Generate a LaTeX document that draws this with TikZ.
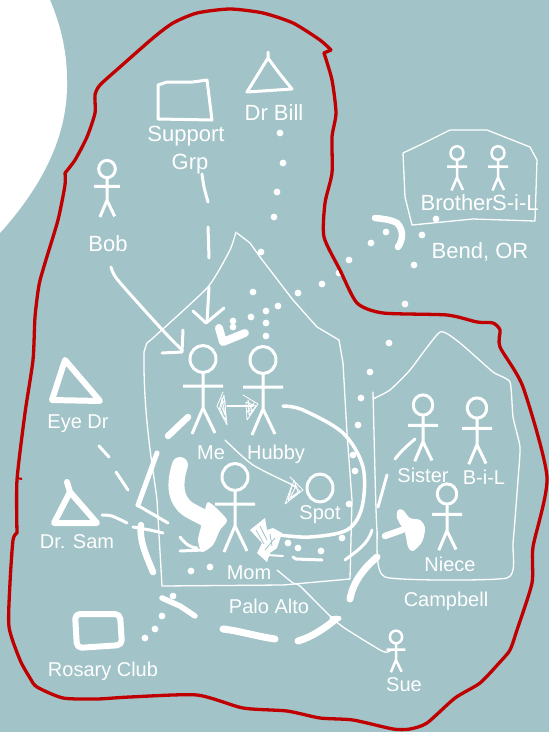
\documentclass[tikz,border=0pt]{standalone}
\usepackage{fontspec}
\setmainfont{Liberation Sans}
\definecolor{bgc}{HTML}{A2C3C8}
\definecolor{redc}{HTML}{C00000}
\tikzset{
  lab/.style={text=white,inner sep=0pt,font=\fontsize{20}{24}\selectfont},
  labb/.style={text=white,inner sep=0pt,font=\fontsize{22}{26}\selectfont},
  ink/.style={draw=white,line cap=round,line join=round},
  thinl/.style={ink,line width=1.3pt},
  medl/.style={ink,line width=3pt},
  heavy/.style={ink,line width=6.5pt},
  scrib/.style={ink,line width=.8pt},
  redl/.style={draw=redc,line width=3.3pt,line join=round,line cap=round},
}
\newcommand{\stickman}[5]{%
  \begin{scope}[shift={(#1,#2)},scale=#3]
    \draw[ink,line width=#4pt] (0,0) ellipse (13 and 13.5);
    \draw[ink,line cap=butt,line width=#4pt] (0,13.5) -- (0,49) (-20,27) -- (20,27) (-11,75) -- (0,49) -- (12,74);
  \end{scope}
  \node[coordinate] (#5) at (#1,#2) {};
}
\begin{document}
\begin{tikzpicture}[x=1pt,y=-1pt]
\useasboundingbox (0,0) rectangle (549,732);
\fill[bgc] (0,0) rectangle (549,732);
\begin{scope}
\clip (0,0) rectangle (549,732);
% white corner
\fill[white] (50,0) .. controls (62,28) and (67,55) .. (67,80) .. controls (68,125) and (52,175) .. (0,233) -- (-5,240) -- (-5,0) -- cycle;
% dot beneath the boundary
\fill[white] (339,273) circle (3.4pt);
% red boundary
\draw[redl] plot[smooth,tension=.4] coordinates {
 (324,53) (332,80) (336,113) (332,137) (332,173) (325,203) (324,237) (340,270) (357,303) (383,313) (447,315) (477,322) (493,323) (500,330)
 (500,347) (523,387) (547,477) (533,547) (532,583) (517,630) (510,650) (500,662) (480,683) (455,698) (427,723) (410,729) (393,729) (353,720) (320,718) (287,711) (243,708) (197,695) (130,697) (97,699) (63,698) (37,687) (30,678) (20,660) (9,627) (10,583) (13,540) (17,533)};
\draw[redl] plot[smooth,tension=.4] coordinates {(17,533) (17,480) (25,413) (33,360) (35,317) (39,285) (45,263) (58,220) (65,185) (65,173)};
\draw[redl] plot[smooth,tension=.4] coordinates {(65,173) (75,160) (87,137) (95,113) (95,95) (100,85) (120,67) (153,38) (173,23) (197,13) (230,9) (263,13) (293,23) (320,40) (331,50)};
\draw[redl] (331,50) -- (324,53);
\draw[redc,line width=2pt] (17,478) -- (22,479);
\end{scope}
% region outlines
\draw[thinl] plot[smooth,tension=.3] coordinates {(236,232) (230,250) (208,287) (153,338) (147,343) (144,352)};
\draw[thinl,line join=round] (144,352) .. controls (143,420) and (155,480) .. (157,500) -- (162,586) -- (283,585) -- (350,579) -- (352,500) -- (347,433) -- (343,363) -- (339,340) -- (317,327) -- (293,300) -- (270,270) -- (260,257) -- (250,243) -- (237,233);
\draw[thinl] plot[smooth,tension=.3] coordinates {(373,392) (375,473) (377,530) (385,577) (507,578) (513,543) (518,480) (520,447) (513,417) (510,382) (493,372) (460,343) (440,332) (410,370) (390,390) (373,399)};
\draw[thinl,line join=round] (403,153) -- (405,197) -- (412,225) -- (473,219) -- (535,221) -- (537,160) -- (530,147) -- (487,130) -- (450,130) -- (420,145) -- cycle;
\draw[thinl] plot[smooth,tension=.4] coordinates {(277,570) (293,583) (300,586) (327,613) (343,627) (382,651) (390,651)};
% people
\stickman{203}{359}{1}{3}{me}
\stickman{263}{360}{1}{3}{hubby}
\stickman{235}{477}{1}{3}{mom}
\stickman{423}{405}{.75}{3}{sister}
\stickman{477}{408}{.75}{3}{bil}
\stickman{447}{494}{.75}{3}{niece}
\stickman{457}{153}{.5}{2.5}{brother}
\stickman{498}{153}{.5}{2.5}{sil}
\stickman{107}{169}{.64}{3}{bob}
\stickman{396}{637}{.47}{2.5}{sue}
\draw[ink,line width=3pt] (320,488) ellipse (13 and 14);
% professionals and groups
\draw[ink,line width=3pt] (268,52) -- (268,58) -- (279,73) -- (292,89) -- (247,92) -- (268,58);
\draw[ink,line width=6pt] (65,360) -- (100,401) -- (52,400) -- cycle;
\draw[ink,line width=6pt] (67,482) -- (70,492) -- (97,523) -- (54,523) -- (70,492);
\draw[ink,line width=3pt] (158,85) -- (167,82) -- (193,82) -- (207,80) -- (212,120) -- (158,119) -- cycle;
\draw[ink,line width=6pt,rounded corners=5pt] (75,614) -- (120,614) -- (122,645) -- (77,648) -- cycle;
% dots
\foreach \p in {(280,133),(283,163),(277,192),(274,217),(261,252),(253,292),(298,293),(278,306),(266,311),(251,317),(233,321),(233,327),(266,323),(266,336),(322,284),
 (436,219),(422,235),(386,232),(371,243),(349,260),(414,265),(405,304),
 (389,343),(370,372),(361,398),(358,425),(353,455),(355,471),(349,504),(342,538),(321,551),(298,548),(288,543),(210,567),(191,571),
 (162,616),(155,629),(145,638),(173,596)}
  \fill[white] \p circle (3.4pt);
% Bob arrow
\draw[medl] plot[smooth,tension=.5] coordinates {(111,267) (117,279) (147,313) (170,338) (182,350)};
\draw[medl] (183,330) -- (182,352) -- (162,353);
% Support arrow
\draw[medl] plot[smooth] coordinates {(202,174) (204,187) (208,202)};
\draw[medl] (208,227) -- (209,258);
\draw[medl] (209,287) -- (207,322);
\draw[medl] (193,311) -- (206,323) -- (224,308);
% chevron
\draw[ink,line width=8pt] (219,328) -- (223,342) -- (245,333);
% short dashes
\draw[heavy] (168,436) -- (188,417);
\draw[medl] (99,446) -- (109,457);
\draw[medl] (116,472) -- (128,490);
\draw[medl] plot[smooth] coordinates {(102,515) (112,516) (127,523)};
\draw[medl] (395,459) .. controls (402,450) and (408,445) .. (415,439);
\draw[medl] (387,475) -- (378,507);
% Me to Mom thick arrow
\draw[ink,line width=16pt] (180,465) .. controls (172,490) and (178,505) .. (193,512) -- (212,522);
\fill[white] plot[smooth cycle,tension=.4] coordinates {(207,503) (213,505) (227,520) (220,530) (213,545) (202,552) (198,540) (202,523)};
\draw[medl] (180,537) .. controls (186,545) and (192,548) .. (197,548);
\draw[medl] (180,551) -- (203,550);
% Me--Hubby double arrow
\draw[ink,line width=1.5pt] (227,406) -- (253,406);
\draw[scrib] (223,392) -- (217,406) -- (227,425) -- (224,395) -- (219,410) -- (226,420) -- (225,400) -- (221,405) -- (225,415) -- (222,398) -- (220,408) -- (224,418);
\draw[scrib] (243,395) -- (258,404) -- (247,420) -- (246,402) -- (256,406) -- (249,415) -- (248,400) -- (252,410) -- (247,412) -- (254,403);
% Me to Spot
\draw[thinl] plot[smooth,tension=.4] coordinates {(225,440) (253,465) (297,487)};
\draw[scrib] (290,477) -- (303,490) -- (285,504) -- (292,485) -- (300,491) -- (288,500) -- (294,480) -- (298,492) -- (290,498) -- (295,488) -- (291,495);
% Hubby to Mom
\draw[ink,line width=3.5pt] plot[smooth,tension=.55] coordinates {(283,406) (303,410) (343,433) (363,467) (362,507) (347,530) (310,537) (280,535)};
\fill[white] (250,530) -- (265,518) -- (267,530) -- (273,528) -- (282,533) -- (277,548) -- (270,553) -- (267,562) -- (257,553) -- (262,543) -- cycle;
\draw[bgc,line width=.8pt] (256,530) -- (264,544) (260,526) -- (267,540) (270,534) -- (272,546) (265,550) -- (275,538);
\draw[medl,line width=2pt] (267,555) -- (283,556);
% lower right strokes
\draw[medl] (293,557) -- (296,559) -- (322,560);
\draw[medl] (345,560) .. controls (355,552) and (368,545) .. (372,530);
\draw[ink,line width=7pt] (350,599) .. controls (353,583) and (362,570) .. (377,557);
% left strokes
\draw[ink,line width=5pt] (157,453) -- (138,505);
\draw[medl] (137,505) -- (168,523);
\draw[medl] (133,527) -- (150,530) -- (163,533);
\draw[heavy] (141,525) .. controls (139,540) and (146,555) .. (153,572);
% bottom
\draw[ink,line width=5.5pt] (162,598) -- (180,606) -- (195,616);
\draw[ink,line width=7pt] (223,629) .. controls (240,631) and (255,636) .. (275,639);
\draw[ink,line width=7pt] (298,641) .. controls (312,637) and (325,628) .. (336,619);
\draw[ink,line width=5pt] (332,618) -- (339,618);
% Niece blob
\draw[heavy] (385,536) -- (402,530);
\fill[white] plot[smooth cycle,tension=.5] coordinates {(398,510) (403,510) (410,518) (420,520) (425,528) (422,542) (413,551) (408,547) (405,533) (397,518)};
% Bend arrow
\draw[heavy] (375,218) .. controls (385,219) and (392,220) .. (397,223) .. controls (404,230) and (403,240) .. (398,247);
% labels
\node[labb] (ldrbill) at (274,113) {Dr Bill};
\node[labb] (lsupport) at (186,136) {Support};
\node[labb] (lgrp) at (190,164) {Grp};
\node[labb] (lbob) at (108,244) {Bob};
\node[lab] (lme) at (211,453) {Me};
\node[lab] (lhubby) at (276,454) {Hubby};
\node[lab] (lmom) at (249,573) {Mom};
\node[lab] (lspot) at (320,515) {Spot};
\node[lab] (leye) at (78,424) {Eye Dr};
\node[lab] (lsam) at (77,542) {Dr. Sam};
\node[lab] (lrosary) at (103,671) {Rosary Club};
\node[lab] (lpalo) at (269,606) {Palo Alto};
\node[lab] (lsue) at (404,685) {Sue};
\node[lab] (lsister) at (423,475) {Sister};
\node[lab] (lbil) at (484,477) {B-i-L};
\node[lab] (lniece) at (450,564) {Niece};
\node[lab] (lcampbell) at (446,601) {Campbell};
\node[labb,anchor=east] (lbrother) at (493,203) {Brother};
\node[labb,anchor=west] (lsil) at (492,203) {S-i-L};
\node[labb] (lbend) at (480,252) {Bend, OR};
\end{tikzpicture}
\end{document}
